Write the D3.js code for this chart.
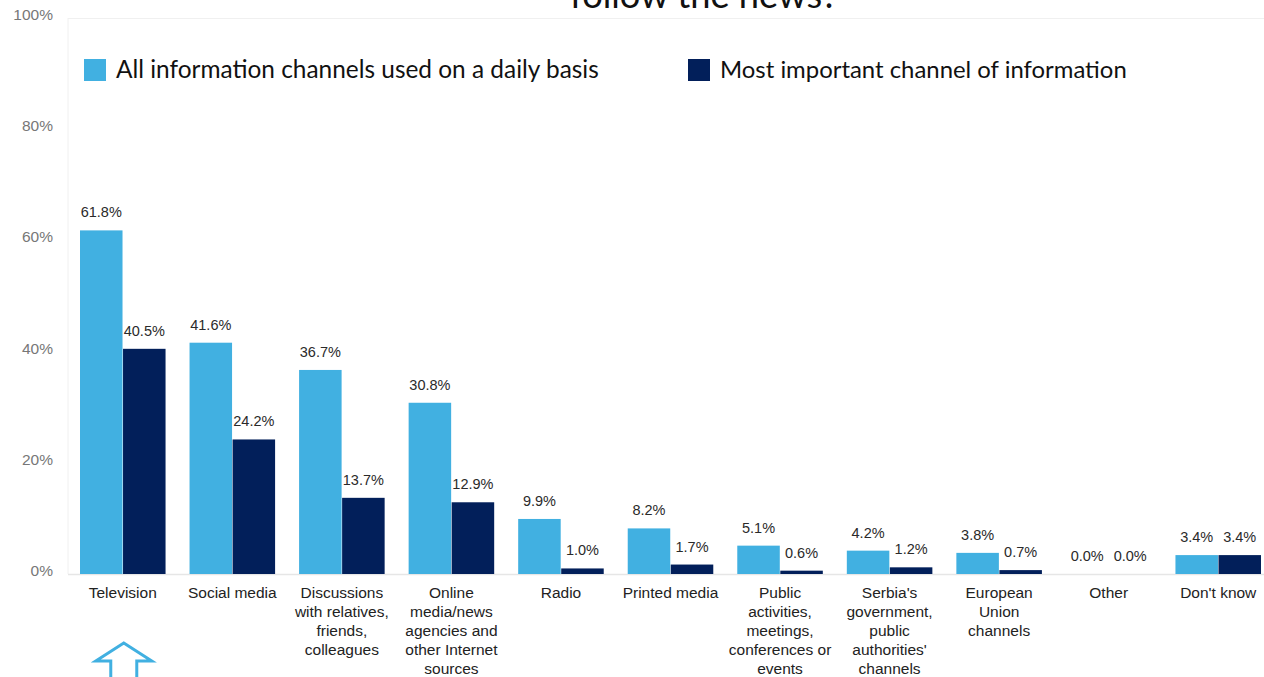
<!DOCTYPE html>
<html><head><meta charset="utf-8">
<script src="https://cdn.jsdelivr.net/npm/d3@7"></script>
<style>
html,body{margin:0;padding:0;background:#fff;}
svg{display:block;}
</style></head>
<body>
<svg id="c" width="1264" height="677"></svg>
<script>
const categories = [
  ["Television"],
  ["Social media"],
  ["Discussions","with relatives,","friends,","colleagues"],
  ["Online","media/news","agencies and","other Internet","sources"],
  ["Radio"],
  ["Printed media"],
  ["Public","activities,","meetings,","conferences or","events"],
  ["Serbia's","government,","public","authorities'","channels"],
  ["European","Union","channels"],
  ["Other"],
  ["Don't know"]
];
const dailyValues = [61.8, 41.6, 36.7, 30.8, 9.9, 8.2, 5.1, 4.2, 3.8, 0.0, 3.4];
const mostImportantValues = [40.5, 24.2, 13.7, 12.9, 1.0, 1.7, 0.6, 1.2, 0.7, 0.0, 3.4];
const seriesNames = ["All information channels used on a daily basis", "Most important channel of information"];
const yTicks = [0, 20, 40, 60, 80, 100];
const titleText = "follow the news?";

const colors = ["#41b0e1", "#021f5a"];
const svg = d3.select("#c");
const W = 1264, H = 677;
const plot = {left: 68, right: 1273, top: 18, bottom: 574};

const keys = categories.map((c,i)=>i);
const x0 = d3.scaleBand().domain(keys).range([plot.left, plot.right]).paddingInner(0).paddingOuter(0);
const x1 = d3.scaleBand().domain([0,1]).range([12, x0.bandwidth()-12]).paddingInner(0.012);
const y = d3.scaleLinear().domain([0,100]).range([plot.bottom, plot.top]);

// plot frame (faint)
svg.append("line").attr("x1",plot.left).attr("x2",plot.left).attr("y1",plot.top).attr("y2",plot.bottom)
  .attr("stroke","#f0f0f0").attr("stroke-width",1);
svg.append("line").attr("x1",plot.left).attr("x2",W).attr("y1",y(100)+0.5).attr("y2",y(100)+0.5)
  .attr("stroke","#f0f0f0").attr("stroke-width",1);

// title (cut off at top)
const title = svg.append("text").attr("x",704).attr("y",8).attr("text-anchor","middle")
  .attr("font-family","Lato, 'Noto Sans', sans-serif").attr("font-weight",400)
  .attr("font-size",30).attr("fill","#111").text(titleText);
{
  const L = title.node().getComputedTextLength();
  title.attr("font-size", 30*268/L);
}

// y axis
const yAxis = d3.axisLeft(y).tickValues(yTicks).tickFormat(d=>d+"%").tickSize(0).tickPadding(0);
const ya = svg.append("g").attr("transform",`translate(${53},0)`).call(yAxis);
ya.select(".domain").remove();
ya.selectAll("text").attr("font-family","'Liberation Sans', Arial, sans-serif").attr("font-size",15.5).attr("fill","#777").attr("dy","0.1em");

// baseline
svg.append("line").attr("x1",plot.left).attr("x2",W).attr("y1",y(0)+0.5).attr("y2",y(0)+0.5)
  .attr("stroke","#e6e6e6").attr("stroke-width",1.5);

// bars
const data = keys.map(i=>({i, vals:[dailyValues[i], mostImportantValues[i]]}));
const groups = svg.append("g").selectAll("g").data(data).join("g")
  .attr("transform", d=>`translate(${x0(d.i)},0)`);
groups.selectAll("rect").data(d=>d.vals.map((v,s)=>({v,s}))).join("rect")
  .attr("x", d=>x1(d.s)).attr("width", x1.bandwidth())
  .attr("y", d=>y(d.v)).attr("height", d=>y(0)-y(d.v))
  .attr("fill", d=>colors[d.s]);
groups.selectAll("text.val").data(d=>d.vals.map((v,s)=>({v,s}))).join("text").attr("class","val")
  .attr("x", d=>x1(d.s)+x1.bandwidth()/2).attr("y", d=>y(d.v)-13)
  .attr("text-anchor","middle").attr("font-family","'Liberation Sans', Arial, sans-serif")
  .attr("font-size",14.5).attr("fill","#2a2a2a").text(d=>d.v.toFixed(1)+"%");

// category labels
const xAxis = d3.axisBottom(x0).tickSize(0).tickFormat("");
svg.append("g").attr("transform",`translate(0,${plot.bottom})`).call(xAxis).select(".domain").remove();
const cl = svg.append("g").selectAll("text").data(keys).join("text")
  .attr("x", i=>x0(i)+x0.bandwidth()/2).attr("y", plot.bottom+24)
  .attr("text-anchor","middle").attr("font-family","'Liberation Sans', Arial, sans-serif")
  .attr("font-size",15.5).attr("fill","#222");
cl.selectAll("tspan").data(i=>categories[i].map(t=>({t,i}))).join("tspan")
  .attr("x", d=>x0(d.i)+x0.bandwidth()/2).attr("dy",(d,k)=>k===0?0:19).text(d=>d.t);

// legend
const legendX = [84, 688];
const legendW = [483, 407];
seriesNames.forEach((n,s)=>{
  svg.append("rect").attr("x",legendX[s]).attr("y",59).attr("width",22).attr("height",22).attr("fill",colors[s]);
  const t = svg.append("text").attr("x",legendX[s]+32).attr("y",78)
    .attr("font-family","Lato, 'Noto Sans', sans-serif").attr("font-size",21).attr("fill","#111").text(n);
  const L = t.node().getComputedTextLength();
  t.attr("font-size", 21*legendW[s]/L);
});

// arrow annotation under Television
const cx = x0(0)+x0.bandwidth()/2 + 1;
const ay = 643;
svg.append("path")
  .attr("d", `M${cx},${ay} L${cx+28},${ay+18} L${cx+13},${ay+18} L${cx+13},${H+10} L${cx-13},${H+10} L${cx-13},${ay+18} L${cx-28},${ay+18} Z`)
  .attr("fill","none").attr("stroke","#41b0e1").attr("stroke-width",3).attr("stroke-linejoin","miter");
</script>
</body></html>
